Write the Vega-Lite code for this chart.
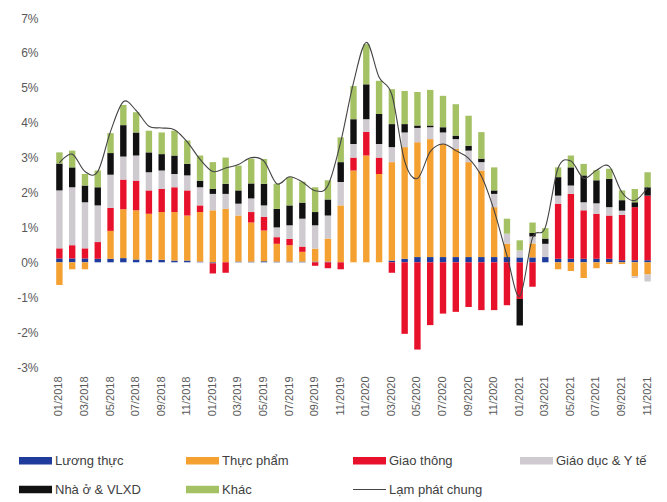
{
"$schema": "https://vega.github.io/schema/vega-lite/v6.json",
"width": 601, "height": 349,
"autosize": "none",
"padding": {"left": 53, "top": 18, "right": 13, "bottom": 135},
"background": "white",
"config": {"view": {"stroke": null}, "font": "Liberation Sans", "axis": {"grid": false, "domain": false, "ticks": false, "labelOverlap": false}, "axisY": {"labelOverlap": false}},
"datasets": {
"order": [{"c":"Lương thực","k":1},{"c":"Thực phẩm","k":2},{"c":"Giao thông","k":3},{"c":"Giáo dục & Y tế","k":4},{"c":"Nhà ở & VLXD","k":5},{"c":"Khác","k":6}],
"bars": [
{"m":"01/2018","c":"Lương thực","v":0.11},{"m":"01/2018","c":"Thực phẩm","v":-0.65},{"m":"01/2018","c":"Giao thông","v":0.29},{"m":"01/2018","c":"Giáo dục & Y tế","v":1.66},{"m":"01/2018","c":"Nhà ở & VLXD","v":0.77},{"m":"01/2018","c":"Khác","v":0.32},
{"m":"02/2018","c":"Lương thực","v":0.11},{"m":"02/2018","c":"Thực phẩm","v":-0.2},{"m":"02/2018","c":"Giao thông","v":0.38},{"m":"02/2018","c":"Giáo dục & Y tế","v":1.66},{"m":"02/2018","c":"Nhà ở & VLXD","v":0.57},{"m":"02/2018","c":"Khác","v":0.48},
{"m":"03/2018","c":"Lương thực","v":0.11},{"m":"03/2018","c":"Thực phẩm","v":-0.2},{"m":"03/2018","c":"Giao thông","v":0.29},{"m":"03/2018","c":"Giáo dục & Y tế","v":1.32},{"m":"03/2018","c":"Nhà ở & VLXD","v":0.48},{"m":"03/2018","c":"Khác","v":0.33},
{"m":"04/2018","c":"Lương thực","v":0.1},{"m":"04/2018","c":"Thực phẩm","v":0},{"m":"04/2018","c":"Giao thông","v":0.48},{"m":"04/2018","c":"Giáo dục & Y tế","v":1.05},{"m":"04/2018","c":"Nhà ở & VLXD","v":0.52},{"m":"04/2018","c":"Khác","v":0.48},
{"m":"05/2018","c":"Lương thực","v":0.1},{"m":"05/2018","c":"Thực phẩm","v":0.8},{"m":"05/2018","c":"Giao thông","v":0.66},{"m":"05/2018","c":"Giáo dục & Y tế","v":0.95},{"m":"05/2018","c":"Nhà ở & VLXD","v":0.62},{"m":"05/2018","c":"Khác","v":0.57},
{"m":"06/2018","c":"Lương thực","v":0.12},{"m":"06/2018","c":"Thực phẩm","v":1.4},{"m":"06/2018","c":"Giao thông","v":0.85},{"m":"06/2018","c":"Giáo dục & Y tế","v":0.66},{"m":"06/2018","c":"Nhà ở & VLXD","v":0.9},{"m":"06/2018","c":"Khác","v":0.58},
{"m":"07/2018","c":"Lương thực","v":0.08},{"m":"07/2018","c":"Thực phẩm","v":1.41},{"m":"07/2018","c":"Giao thông","v":0.85},{"m":"07/2018","c":"Giáo dục & Y tế","v":0.72},{"m":"07/2018","c":"Nhà ở & VLXD","v":0.66},{"m":"07/2018","c":"Khác","v":0.58},
{"m":"08/2018","c":"Lương thực","v":0.07},{"m":"08/2018","c":"Thực phẩm","v":1.32},{"m":"08/2018","c":"Giao thông","v":0.67},{"m":"08/2018","c":"Giáo dục & Y tế","v":0.52},{"m":"08/2018","c":"Nhà ở & VLXD","v":0.57},{"m":"08/2018","c":"Khác","v":0.62},
{"m":"09/2018","c":"Lương thực","v":0.07},{"m":"09/2018","c":"Thực phẩm","v":1.37},{"m":"09/2018","c":"Giao thông","v":0.66},{"m":"09/2018","c":"Giáo dục & Y tế","v":0.53},{"m":"09/2018","c":"Nhà ở & VLXD","v":0.47},{"m":"09/2018","c":"Khác","v":0.62},
{"m":"10/2018","c":"Lương thực","v":0.05},{"m":"10/2018","c":"Thực phẩm","v":1.39},{"m":"10/2018","c":"Giao thông","v":0.71},{"m":"10/2018","c":"Giáo dục & Y tế","v":0.38},{"m":"10/2018","c":"Nhà ở & VLXD","v":0.53},{"m":"10/2018","c":"Khác","v":0.71},
{"m":"11/2018","c":"Lương thực","v":0.05},{"m":"11/2018","c":"Thực phẩm","v":1.29},{"m":"11/2018","c":"Giao thông","v":0.72},{"m":"11/2018","c":"Giáo dục & Y tế","v":0.43},{"m":"11/2018","c":"Nhà ở & VLXD","v":0.33},{"m":"11/2018","c":"Khác","v":0.67},
{"m":"12/2018","c":"Lương thực","v":0.02},{"m":"12/2018","c":"Thực phẩm","v":1.42},{"m":"12/2018","c":"Giao thông","v":0.19},{"m":"12/2018","c":"Giáo dục & Y tế","v":0.52},{"m":"12/2018","c":"Nhà ở & VLXD","v":0.19},{"m":"12/2018","c":"Khác","v":0.72},
{"m":"01/2019","c":"Lương thực","v":-0.03},{"m":"01/2019","c":"Thực phẩm","v":1.49},{"m":"01/2019","c":"Giao thông","v":-0.29},{"m":"01/2019","c":"Giáo dục & Y tế","v":0.47},{"m":"01/2019","c":"Nhà ở & VLXD","v":0.14},{"m":"01/2019","c":"Khác","v":0.77},
{"m":"02/2019","c":"Lương thực","v":0},{"m":"02/2019","c":"Thực phẩm","v":1.53},{"m":"02/2019","c":"Giao thông","v":-0.3},{"m":"02/2019","c":"Giáo dục & Y tế","v":0.43},{"m":"02/2019","c":"Nhà ở & VLXD","v":0.29},{"m":"02/2019","c":"Khác","v":0.75},
{"m":"03/2019","c":"Lương thực","v":0.02},{"m":"03/2019","c":"Thực phẩm","v":1.32},{"m":"03/2019","c":"Giao thông","v":0},{"m":"03/2019","c":"Giáo dục & Y tế","v":0.34},{"m":"03/2019","c":"Nhà ở & VLXD","v":0.38},{"m":"03/2019","c":"Khác","v":0.71},
{"m":"04/2019","c":"Lương thực","v":0.02},{"m":"04/2019","c":"Thực phẩm","v":1.12},{"m":"04/2019","c":"Giao thông","v":0.3},{"m":"04/2019","c":"Giáo dục & Y tế","v":0.39},{"m":"04/2019","c":"Nhà ở & VLXD","v":0.43},{"m":"04/2019","c":"Khác","v":0.71},
{"m":"05/2019","c":"Lương thực","v":0.03},{"m":"05/2019","c":"Thực phẩm","v":0.88},{"m":"05/2019","c":"Giao thông","v":0.39},{"m":"05/2019","c":"Giáo dục & Y tế","v":0.33},{"m":"05/2019","c":"Nhà ở & VLXD","v":0.62},{"m":"05/2019","c":"Khác","v":0.71},
{"m":"06/2019","c":"Lương thực","v":0.02},{"m":"06/2019","c":"Thực phẩm","v":0.51},{"m":"06/2019","c":"Giao thông","v":0.19},{"m":"06/2019","c":"Giáo dục & Y tế","v":0.28},{"m":"06/2019","c":"Nhà ở & VLXD","v":0.53},{"m":"06/2019","c":"Khác","v":0.72},
{"m":"07/2019","c":"Lương thực","v":0.02},{"m":"07/2019","c":"Thực phẩm","v":0.47},{"m":"07/2019","c":"Giao thông","v":0.18},{"m":"07/2019","c":"Giáo dục & Y tế","v":0.39},{"m":"07/2019","c":"Nhà ở & VLXD","v":0.57},{"m":"07/2019","c":"Khác","v":0.81},
{"m":"08/2019","c":"Lương thực","v":0.02},{"m":"08/2019","c":"Thực phẩm","v":0.28},{"m":"08/2019","c":"Giao thông","v":0.15},{"m":"08/2019","c":"Giáo dục & Y tế","v":0.8},{"m":"08/2019","c":"Nhà ở & VLXD","v":0.46},{"m":"08/2019","c":"Khác","v":0.6},
{"m":"09/2019","c":"Lương thực","v":0.02},{"m":"09/2019","c":"Thực phẩm","v":0.37},{"m":"09/2019","c":"Giao thông","v":-0.1},{"m":"09/2019","c":"Giáo dục & Y tế","v":0.67},{"m":"09/2019","c":"Nhà ở & VLXD","v":0.38},{"m":"09/2019","c":"Khác","v":0.71},
{"m":"10/2019","c":"Lương thực","v":0.02},{"m":"10/2019","c":"Thực phẩm","v":0.66},{"m":"10/2019","c":"Giao thông","v":-0.17},{"m":"10/2019","c":"Giáo dục & Y tế","v":0.66},{"m":"10/2019","c":"Nhà ở & VLXD","v":0.46},{"m":"10/2019","c":"Khác","v":0.55},
{"m":"11/2019","c":"Lương thực","v":0},{"m":"11/2019","c":"Thực phẩm","v":1.63},{"m":"11/2019","c":"Giao thông","v":-0.2},{"m":"11/2019","c":"Giáo dục & Y tế","v":0.67},{"m":"11/2019","c":"Nhà ở & VLXD","v":0.57},{"m":"11/2019","c":"Khác","v":0.71},
{"m":"12/2019","c":"Lương thực","v":0},{"m":"12/2019","c":"Thực phẩm","v":2.63},{"m":"12/2019","c":"Giao thông","v":0.37},{"m":"12/2019","c":"Giáo dục & Y tế","v":0.39},{"m":"12/2019","c":"Nhà ở & VLXD","v":0.71},{"m":"12/2019","c":"Khác","v":0.95},
{"m":"01/2020","c":"Lương thực","v":0},{"m":"01/2020","c":"Thực phẩm","v":3.06},{"m":"01/2020","c":"Giao thông","v":0.68},{"m":"01/2020","c":"Giáo dục & Y tế","v":0.36},{"m":"01/2020","c":"Nhà ở & VLXD","v":1.0},{"m":"01/2020","c":"Khác","v":1.15},
{"m":"02/2020","c":"Lương thực","v":0},{"m":"02/2020","c":"Thực phẩm","v":2.53},{"m":"02/2020","c":"Giao thông","v":0.47},{"m":"02/2020","c":"Giáo dục & Y tế","v":0.39},{"m":"02/2020","c":"Nhà ở & VLXD","v":0.86},{"m":"02/2020","c":"Khác","v":0.95},
{"m":"03/2020","c":"Lương thực","v":0.05},{"m":"03/2020","c":"Thực phẩm","v":2.82},{"m":"03/2020","c":"Giao thông","v":-0.3},{"m":"03/2020","c":"Giáo dục & Y tế","v":0.43},{"m":"03/2020","c":"Nhà ở & VLXD","v":0.66},{"m":"03/2020","c":"Khác","v":1.0},
{"m":"04/2020","c":"Lương thực","v":0.1},{"m":"04/2020","c":"Thực phẩm","v":3.2},{"m":"04/2020","c":"Giao thông","v":-2.05},{"m":"04/2020","c":"Giáo dục & Y tế","v":0.42},{"m":"04/2020","c":"Nhà ở & VLXD","v":0.24},{"m":"04/2020","c":"Khác","v":0.95},
{"m":"05/2020","c":"Lương thực","v":0.15},{"m":"05/2020","c":"Thực phẩm","v":3.29},{"m":"05/2020","c":"Giao thông","v":-2.5},{"m":"05/2020","c":"Giáo dục & Y tế","v":0.41},{"m":"05/2020","c":"Nhà ở & VLXD","v":0.07},{"m":"05/2020","c":"Khác","v":0.96},
{"m":"06/2020","c":"Lương thực","v":0.15},{"m":"06/2020","c":"Thực phẩm","v":3.38},{"m":"06/2020","c":"Giao thông","v":-1.8},{"m":"06/2020","c":"Giáo dục & Y tế","v":0.34},{"m":"06/2020","c":"Nhà ở & VLXD","v":0.05},{"m":"06/2020","c":"Khác","v":1.02},
{"m":"07/2020","c":"Lương thực","v":0.15},{"m":"07/2020","c":"Thực phẩm","v":3.24},{"m":"07/2020","c":"Giao thông","v":-1.47},{"m":"07/2020","c":"Giáo dục & Y tế","v":0.33},{"m":"07/2020","c":"Nhà ở & VLXD","v":0.15},{"m":"07/2020","c":"Khác","v":0.9},
{"m":"08/2020","c":"Lương thực","v":0.15},{"m":"08/2020","c":"Thực phẩm","v":3.1},{"m":"08/2020","c":"Giao thông","v":-1.42},{"m":"08/2020","c":"Giáo dục & Y tế","v":0.28},{"m":"08/2020","c":"Nhà ở & VLXD","v":0.1},{"m":"08/2020","c":"Khác","v":0.9},
{"m":"09/2020","c":"Lương thực","v":0.15},{"m":"09/2020","c":"Thực phẩm","v":2.72},{"m":"09/2020","c":"Giao thông","v":-1.28},{"m":"09/2020","c":"Giáo dục & Y tế","v":0.33},{"m":"09/2020","c":"Nhà ở & VLXD","v":0.14},{"m":"09/2020","c":"Khác","v":0.86},
{"m":"10/2020","c":"Lương thực","v":0.15},{"m":"10/2020","c":"Thực phẩm","v":2.48},{"m":"10/2020","c":"Giao thông","v":-1.37},{"m":"10/2020","c":"Giáo dục & Y tế","v":0.24},{"m":"10/2020","c":"Nhà ở & VLXD","v":0.1},{"m":"10/2020","c":"Khác","v":0.76},
{"m":"11/2020","c":"Lương thực","v":0.15},{"m":"11/2020","c":"Thực phẩm","v":1.43},{"m":"11/2020","c":"Giao thông","v":-1.37},{"m":"11/2020","c":"Giáo dục & Y tế","v":0.38},{"m":"11/2020","c":"Nhà ở & VLXD","v":0.1},{"m":"11/2020","c":"Khác","v":0.66},
{"m":"12/2020","c":"Lương thực","v":0.15},{"m":"12/2020","c":"Thực phẩm","v":0.38},{"m":"12/2020","c":"Giao thông","v":-1.23},{"m":"12/2020","c":"Giáo dục & Y tế","v":0.29},{"m":"12/2020","c":"Nhà ở & VLXD","v":0},{"m":"12/2020","c":"Khác","v":0.43},
{"m":"01/2021","c":"Lương thực","v":0.14},{"m":"01/2021","c":"Thực phẩm","v":0},{"m":"01/2021","c":"Giao thông","v":-1.05},{"m":"01/2021","c":"Giáo dục & Y tế","v":0.2},{"m":"01/2021","c":"Nhà ở & VLXD","v":-0.76},{"m":"01/2021","c":"Khác","v":0.29},
{"m":"02/2021","c":"Lương thực","v":0.14},{"m":"02/2021","c":"Thực phẩm","v":0.4},{"m":"02/2021","c":"Giao thông","v":-0.7},{"m":"02/2021","c":"Giáo dục & Y tế","v":0.2},{"m":"02/2021","c":"Nhà ở & VLXD","v":0.1},{"m":"02/2021","c":"Khác","v":0.3},
{"m":"03/2021","c":"Lương thực","v":0.15},{"m":"03/2021","c":"Thực phẩm","v":0},{"m":"03/2021","c":"Giao thông","v":0},{"m":"03/2021","c":"Giáo dục & Y tế","v":0.38},{"m":"03/2021","c":"Nhà ở & VLXD","v":0.15},{"m":"03/2021","c":"Khác","v":0.3},
{"m":"04/2021","c":"Lương thực","v":0.1},{"m":"04/2021","c":"Thực phẩm","v":-0.2},{"m":"04/2021","c":"Giao thông","v":1.58},{"m":"04/2021","c":"Giáo dục & Y tế","v":0.23},{"m":"04/2021","c":"Nhà ở & VLXD","v":0.53},{"m":"04/2021","c":"Khác","v":0.28},
{"m":"05/2021","c":"Lương thực","v":0.1},{"m":"05/2021","c":"Thực phẩm","v":-0.25},{"m":"05/2021","c":"Giao thông","v":1.86},{"m":"05/2021","c":"Giáo dục & Y tế","v":0.24},{"m":"05/2021","c":"Nhà ở & VLXD","v":0.52},{"m":"05/2021","c":"Khác","v":0.34},
{"m":"06/2021","c":"Lương thực","v":0.1},{"m":"06/2021","c":"Thực phẩm","v":-0.45},{"m":"06/2021","c":"Giao thông","v":1.39},{"m":"06/2021","c":"Giáo dục & Y tế","v":0.23},{"m":"06/2021","c":"Nhà ở & VLXD","v":0.77},{"m":"06/2021","c":"Khác","v":0.33},
{"m":"07/2021","c":"Lương thực","v":0.1},{"m":"07/2021","c":"Thực phẩm","v":-0.17},{"m":"07/2021","c":"Giao thông","v":1.29},{"m":"07/2021","c":"Giáo dục & Y tế","v":0.3},{"m":"07/2021","c":"Nhà ở & VLXD","v":0.66},{"m":"07/2021","c":"Khác","v":0.29},
{"m":"08/2021","c":"Lương thực","v":0.1},{"m":"08/2021","c":"Thực phẩm","v":-0.05},{"m":"08/2021","c":"Giao thông","v":1.24},{"m":"08/2021","c":"Giáo dục & Y tế","v":0.24},{"m":"08/2021","c":"Nhà ở & VLXD","v":0.81},{"m":"08/2021","c":"Khác","v":0.29},
{"m":"09/2021","c":"Lương thực","v":0.06},{"m":"09/2021","c":"Thực phẩm","v":-0.05},{"m":"09/2021","c":"Giao thông","v":1.3},{"m":"09/2021","c":"Giáo dục & Y tế","v":0.12},{"m":"09/2021","c":"Nhà ở & VLXD","v":0.3},{"m":"09/2021","c":"Khác","v":0.28},
{"m":"10/2021","c":"Lương thực","v":0.06},{"m":"10/2021","c":"Thực phẩm","v":-0.4},{"m":"10/2021","c":"Giao thông","v":1.52},{"m":"10/2021","c":"Giáo dục & Y tế","v":-0.05},{"m":"10/2021","c":"Nhà ở & VLXD","v":0.14},{"m":"10/2021","c":"Khác","v":0.38},
{"m":"11/2021","c":"Lương thực","v":0.06},{"m":"11/2021","c":"Thực phẩm","v":-0.35},{"m":"11/2021","c":"Giao thông","v":1.85},{"m":"11/2021","c":"Giáo dục & Y tế","v":-0.2},{"m":"11/2021","c":"Nhà ở & VLXD","v":0.24},{"m":"11/2021","c":"Khác","v":0.43}
],
"line": [
{"m":"01/2018","v":2.85},{"m":"02/2018","v":3.1},{"m":"03/2018","v":2.6},{"m":"04/2018","v":2.6},{"m":"05/2018","v":3.75},{"m":"06/2018","v":4.6},{"m":"07/2018","v":4.35},{"m":"08/2018","v":3.9},{"m":"09/2018","v":3.85},{"m":"10/2018","v":3.8},{"m":"11/2018","v":3.45},{"m":"12/2018","v":2.95},
{"m":"01/2019","v":2.6},{"m":"02/2019","v":2.7},{"m":"03/2019","v":2.8},{"m":"04/2019","v":3.0},{"m":"05/2019","v":2.9},{"m":"06/2019","v":2.25},{"m":"07/2019","v":2.45},{"m":"08/2019","v":2.3},{"m":"09/2019","v":2.05},{"m":"10/2019","v":2.2},{"m":"11/2019","v":3.45},{"m":"12/2019","v":5.15},
{"m":"01/2020","v":6.3},{"m":"02/2020","v":5.3},{"m":"03/2020","v":4.8},{"m":"04/2020","v":2.9},{"m":"05/2020","v":2.4},{"m":"06/2020","v":3.17},{"m":"07/2020","v":3.39},{"m":"08/2020","v":3.2},{"m":"09/2020","v":2.98},{"m":"10/2020","v":2.47},{"m":"11/2020","v":1.48},{"m":"12/2020","v":0.19},
{"m":"01/2021","v":-0.97},{"m":"02/2021","v":0.7},{"m":"03/2021","v":1.0},{"m":"04/2021","v":2.7},{"m":"05/2021","v":2.9},{"m":"06/2021","v":2.41},{"m":"07/2021","v":2.64},{"m":"08/2021","v":2.75},{"m":"09/2021","v":2.0},{"m":"10/2021","v":1.77},{"m":"11/2021","v":2.15}
]
},
"layer": [
{
"data": {"name": "bars"},
"transform": [{"lookup": "c", "from": {"data": {"name": "order"}, "key": "c", "fields": ["k"]}}],
"mark": {"type": "bar"},
"encoding": {
"x": {"field": "m", "type": "ordinal", "sort": null,
"scale": {"paddingInner": 0.5, "paddingOuter": 0.25},
"axis": {"title": null, "labelAngle": 270, "labelFontSize": 11, "labelColor": "#595959", "labelPadding": 9, "labelOverlap": false,
"values": ["01/2018","03/2018","05/2018","07/2018","09/2018","11/2018","01/2019","03/2019","05/2019","07/2019","09/2019","11/2019","01/2020","03/2020","05/2020","07/2020","09/2020","11/2020","01/2021","03/2021","05/2021","07/2021","09/2021","11/2021"]}},
"y": {"field": "v", "type": "quantitative", "stack": "zero",
"scale": {"domain": [-3, 7], "nice": false},
"axis": {"title": null, "values": [-3,-2,-1,0,1,2,3,4,5,6,7], "labelOverlap": false, "labelExpr": "datum.value + '%'", "labelFontSize": 12, "labelColor": "#595959", "labelPadding": 15}},
"order": {"field": "k", "type": "quantitative", "sort": "ascending"},
"color": {"field": "c", "type": "nominal",
"sort": ["Lương thực","Thực phẩm","Giao thông","Giáo dục & Y tế","Nhà ở & VLXD","Khác"],
"scale": {"domain": ["Lương thực","Thực phẩm","Giao thông","Giáo dục & Y tế","Nhà ở & VLXD","Khác","Lạm phát chung"],
"range": ["#1f3c9c","#f4a132","#e8112b","#cfcacf","#111111","#a4c164","#444444"]},
"legend": {"title": null, "orient": "none", "legendX": -34, "legendY": 426, "columns": 4, "direction": "horizontal", "gridAlign": "all",
"symbolType": "M-1,-0.22H1V0.22H-1Z", "symbolSize": 1089, "symbolStrokeWidth": 0,
"labelFontSize": 13, "labelColor": "#404040", "labelOffset": 3, "columnPadding": 37, "rowPadding": 5,
"encode": {"symbols": {"update": {"shape": {"signal": "datum.value === 'Lạm phát chung' ? 'M-1,-0.035H1V0.035H-1Z' : 'M-1,-0.22H1V0.22H-1Z'"}}}}}
}
}
},
{
"data": {"name": "line"},
"mark": {"type": "line", "interpolate": "cardinal", "strokeWidth": 1.1},
"encoding": {
"x": {"field": "m", "type": "ordinal", "sort": null},
"y": {"field": "v", "type": "quantitative",
"axis": {"title": null, "values": [-3,-2,-1,0,1,2,3,4,5,6,7], "labelOverlap": false, "labelExpr": "datum.value + '%'", "labelFontSize": 12, "labelColor": "#595959", "labelPadding": 15}},
"color": {"datum": "Lạm phát chung"}
}
}
]
}
